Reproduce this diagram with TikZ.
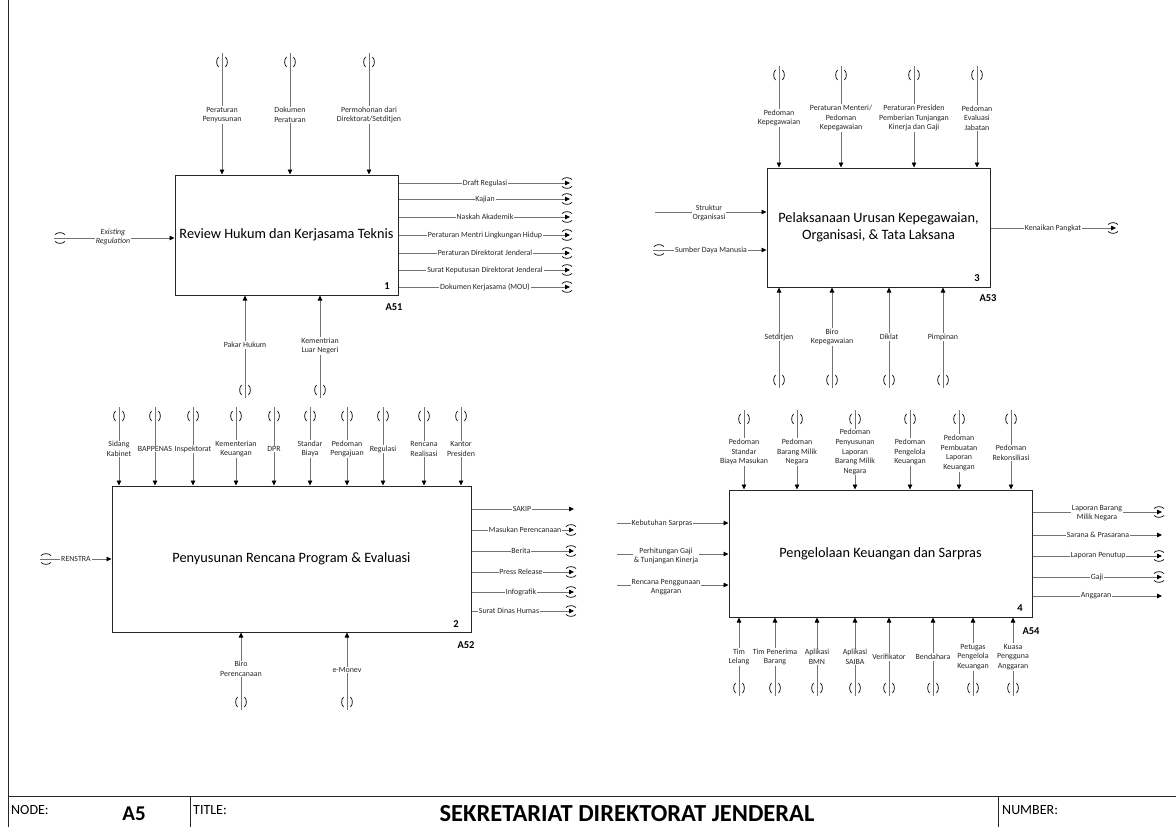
\documentclass[tikz,border=0pt]{standalone}
\usepackage{fontspec}
\setmainfont{Carlito}
\usetikzlibrary{arrows.meta}
\begin{document}
\begin{tikzpicture}[x=1pt,y=-1pt,
 box/.style={draw=black!85,line width=1pt,align=center,font=\fontsize{14.3}{17.5}\selectfont,inner sep=2pt},
 ln/.style={draw=black!55,line width=0.8pt},
 arr/.style={ln,-{Triangle[length=5pt,width=4.5pt,color=black]}},
 lbl/.style={fill=white,inner sep=0.8pt,align=center,font=\fontsize{7.9}{9.6}\selectfont,text=black!85},
 num/.style={font=\bfseries\fontsize{10.5}{12}\selectfont,inner sep=0pt},
 foot/.style={font=\fontsize{14}{16}\selectfont,inner sep=0pt,anchor=west},
 tun/.style={draw=black,line width=0.7pt},
 tunv/.pic={\draw[tun] (-3.5,-5) .. controls (-6,-2) and (-6,2) .. (-3.5,5);
            \draw[tun] (3.5,-5) .. controls (6,-2) and (6,2) .. (3.5,5);},
 tunh/.pic={\draw[tun] (-5,-3.5) .. controls (-2,-6) and (2,-6) .. (5,-3.5);
            \draw[tun] (-5,3.5) .. controls (-2,6) and (2,6) .. (5,3.5);}
]
\newcommand\ctlA[6]{%
 \coordinate (#1) at (#2,#4);
 \draw[arr] (#1) -- (#1 |- #3.north);
 \pic at (#2,#4+9) {tunv};
 \node[lbl] (#1l) at (#2,#5) {#6};}
\newcommand\mechA[6]{%
 \coordinate (#1) at (#2,#4);
 \draw[arr] (#1) -- (#1 |- #3.south);
 \pic at (#2,#4-8) {tunv};
 \node[lbl] (#1l) at (#2,#5) {#6};}
\newcommand\inA[6]{%
 \coordinate (#1) at (#2,#3);
 \draw[arr] (#1) -- (#1 -| #4.west);
 \node[lbl] (#1l) at (#5) {#6};}
\newcommand\outA[6]{%
 \coordinate (#1) at (#4,#3);
 \draw[arr] (#1 -| #2.east) -- (#1);
 \node[lbl] (#1l) at (#5) {#6};}

\fill[white] (0,0) rectangle (1176,827);
\useasboundingbox (0,0) rectangle (1176,827);

% frame
\draw[black!85,line width=1pt] (8,0) -- (8,827);
\draw[black!85,line width=1pt] (8,796) -- (1176,796);
\draw[black!85,line width=1pt] (190,796) -- (190,827);
\draw[black!85,line width=1pt] (998,796) -- (998,827);
\node[foot] (fnode) at (11,810) {NODE:};
\node[font=\bfseries\fontsize{21}{24}\selectfont,inner sep=0pt] (fa5) at (134,814) {A5};
\node[foot] (ftitle) at (193,810) {TITLE:};
\node[font=\bfseries\fontsize{24.5}{28}\selectfont,inner sep=0pt] (fsek) at (627,814) {SEKRETARIAT DIREKTORAT JENDERAL};
\node[foot] (fnum) at (1002,810) {NUMBER:};

% ===== A51 =====
\node[box,minimum width=223pt,minimum height=120pt] (b1) at (286.5,235) {Review Hukum dan Kerjasama Teknis};
\node[num] (n1) at (387,286) {1};
\node[num] (a1) at (394,307) {A51};
\ctlA{c1a}{222}{b1}{53}{115}{Peraturan\\Penyusunan}
\ctlA{c1b}{290}{b1}{53}{115}{Dokumen\\Peraturan}
\ctlA{c1c}{369}{b1}{53}{115}{Permohonan dari\\Direktorat/Setditjen}
\inA{i1a}{54}{238}{b1}{113,237}{\textit{Existing}\\\textit{Regulation}}
\pic at (60,238) {tunh};
\outA{o1a}{b1}{183}{570}{485,183}{Draft Regulasi}
\outA{o1b}{b1}{199}{570}{485,199}{Kajian}
\outA{o1c}{b1}{217}{570}{485,217}{Naskah Akademik}
\outA{o1d}{b1}{235}{570}{485,235}{Peraturan Mentri Lingkungan Hidup}
\outA{o1e}{b1}{253}{570}{485,253}{Peraturan Direktorat Jenderal}
\outA{o1f}{b1}{270}{570}{485,270}{Surat Keputusan Direktorat Jenderal}
\outA{o1g}{b1}{287}{570}{485,287}{Dokumen Kerjasama (MOU)}
\foreach \yy in {183,199,217,235,253,270,287} {\pic at (567,\yy) {tunh};}
\mechA{m1a}{245}{b1}{398}{345}{Pakar Hukum}
\mechA{m1b}{320}{b1}{398}{346}{Kementrian\\Luar Negeri}

% ===== A53 =====
\node[box,minimum width=223pt,minimum height=119pt] (b3) at (878.5,227.5) {Pelaksanaan Urusan Kepegawaian,\\Organisasi, \& Tata Laksana};
\node[num] (n3) at (977,278) {3};
\node[num] (a3) at (988,298) {A53};
\ctlA{c3a}{779}{b3}{66}{118}{Pedoman\\Kepegawaian}
\ctlA{c3b}{841}{b3}{66}{118}{Peraturan Menteri/\\Pedoman\\Kepegawaian}
\ctlA{c3c}{914}{b3}{66}{118}{Peraturan Presiden\\Pemberian Tunjangan\\Kinerja dan Gaji}
\ctlA{c3d}{977}{b3}{66}{118}{Pedoman\\Evaluasi\\Jabatan}
\inA{i3a}{655}{212}{b3}{709,213}{Struktur\\Organisasi}
\inA{i3b}{653}{250}{b3}{711,250}{Sumber Daya Manusia}
\pic at (659,250) {tunh};
\outA{o3a}{b3}{228}{1116}{1053,228}{Kenaikan Pangkat}
\pic at (1113,228) {tunh};
\mechA{m3a}{779}{b3}{388}{337}{Setditjen}
\mechA{m3b}{832}{b3}{388}{337}{Biro\\Kepegawaian}
\mechA{m3c}{889}{b3}{388}{337}{Diklat}
\mechA{m3d}{943}{b3}{388}{337}{Pimpinan}

% ===== A52 =====
\node[box,minimum width=359pt,minimum height=146pt] (b2) at (291.5,559) {Penyusunan Rencana Program \& Evaluasi};
\node[num] (n2) at (456,624) {2};
\node[num] (a2) at (466,645) {A52};
\ctlA{c2a}{119}{b2}{407}{449}{Sidang\\Kabinet}
\ctlA{c2b}{155}{b2}{407}{449}{BAPPENAS}
\ctlA{c2c}{193}{b2}{407}{449}{Inspektorat}
\ctlA{c2d}{236}{b2}{407}{449}{Kementerian\\Keuangan}
\ctlA{c2e}{274}{b2}{407}{449}{DPR}
\ctlA{c2f}{310}{b2}{407}{449}{Standar\\Biaya}
\ctlA{c2g}{347}{b2}{407}{449}{Pedoman\\Pengajuan}
\ctlA{c2h}{383}{b2}{407}{449}{Regulasi}
\ctlA{c2i}{424}{b2}{407}{449}{Rencana\\Realisasi}
\ctlA{c2j}{461}{b2}{407}{449}{Kantor\\Presiden}
\inA{i2a}{40}{559}{b2}{76,559}{RENSTRA}
\pic at (46,559) {tunh};
\outA{o2a}{b2}{509}{574}{522,509}{SAKIP}
\outA{o2b}{b2}{530}{574}{525,530}{Masukan Perencanaan}
\outA{o2c}{b2}{551}{574}{521,551}{Berita}
\outA{o2d}{b2}{572}{574}{521,572}{Press Release}
\outA{o2e}{b2}{592}{574}{521,592}{Infografik}
\outA{o2f}{b2}{611}{574}{509,611}{Surat Dinas Humas}
\foreach \yy in {530,551,572,592,611} {\pic at (571,\yy) {tunh};}
\mechA{m2a}{241}{b2}{710}{669}{Biro\\Perencanaan}
\mechA{m2b}{347}{b2}{710}{670}{e-Monev}

% ===== A54 =====
\node[box,minimum width=303pt,minimum height=127pt] (b4) at (880.5,553.5) {Pengelolaan Keuangan dan Sarpras};
\node[num] (n4) at (1020,608) {4};
\node[num] (a4) at (1031,631) {A54};
\ctlA{c4a}{744}{b4}{410}{452}{Pedoman\\Standar\\Biaya Masukan}
\ctlA{c4b}{797}{b4}{410}{452}{Pedoman\\Barang Milik\\Negara}
\ctlA{c4c}{855}{b4}{410}{452}{Pedoman\\Penyusunan\\Laporan\\Barang Milik\\Negara}
\ctlA{c4d}{910}{b4}{410}{452}{Pedoman\\Pengelola\\Keuangan}
\ctlA{c4e}{959}{b4}{410}{453}{Pedoman\\Pembuatan\\Laporan\\Keuangan}
\ctlA{c4f}{1011}{b4}{410}{453}{Pedoman\\Rekonsiliasi}
\inA{i4a}{617}{523}{b4}{662,523}{Kebutuhan Sarpras}
\inA{i4b}{617}{554}{b4}{666,556}{Perhitungan Gaji\\\& Tunjangan Kinerja}
\inA{i4c}{617}{585}{b4}{666,587}{Rencana Penggunaan\\Anggaran}
\outA{o4a}{b4}{512}{1162}{1097,513}{Laporan Barang\\Milik Negara}
\outA{o4b}{b4}{535}{1162}{1098,535}{Sarana \& Prasarana}
\outA{o4c}{b4}{556}{1162}{1098,556}{Laporan Penutup}
\outA{o4d}{b4}{577}{1162}{1097,577}{Gaji}
\outA{o4e}{b4}{596}{1162}{1096,596}{Anggaran}
\foreach \yy in {512,556,577} {\pic at (1159,\yy) {tunh};}
\mechA{m4a}{739}{b4}{696}{657}{Tim\\Lelang}
\mechA{m4b}{775}{b4}{696}{657}{Tim Penerima\\Barang}
\mechA{m4c}{817}{b4}{696}{657}{Aplikasi\\BMN}
\mechA{m4d}{855}{b4}{696}{657}{Aplikasi\\SAIBA}
\mechA{m4e}{889}{b4}{696}{657}{Verifikator}
\mechA{m4f}{933}{b4}{696}{657}{Bendahara}
\mechA{m4g}{973}{b4}{696}{657}{Petugas\\Pengelola\\Keuangan}
\mechA{m4h}{1013}{b4}{696}{657}{Kuasa\\Pengguna\\Anggaran}
\end{tikzpicture}
\end{document}
